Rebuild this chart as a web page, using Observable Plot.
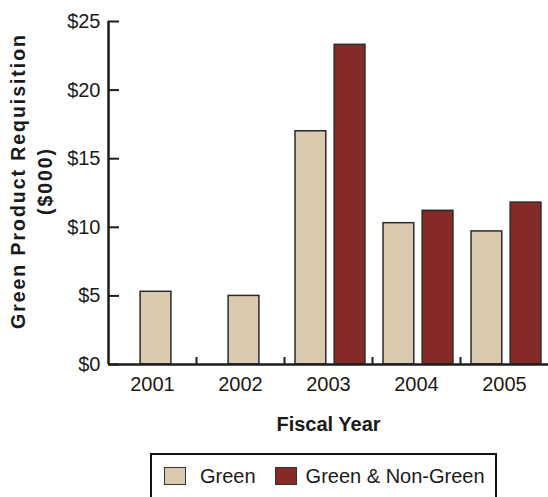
<!DOCTYPE html>
<html>
<head>
<meta charset="utf-8">
<script src="https://cdn.jsdelivr.net/npm/d3@7"></script>
<script src="https://cdn.jsdelivr.net/npm/@observablehq/plot@0.6"></script>
<style>
  body { margin: 0; background: #fff; font-family: "Liberation Sans", Arial, sans-serif; }
  #chart svg { display: block; }
  .legend {
    box-sizing: border-box;
    margin-left: 150px;
    width: 347px;
    height: 52px;
    border: 2px solid #111;
    display: flex;
    align-items: center;
    padding: 0 0 6px 12px;
    font-size: 20px;
    color: #1a1a1a;
  }
  .legend .sw { width: 20px; height: 16px; border: 1px solid #333; flex: none; }
  .legend .item { display: flex; align-items: center; }
</style>
</head>
<body>
<div id="chart"></div>
<script>
// Fiscal years and requisition totals ($000) per series
const years = [2001, 2002, 2003, 2004, 2005];
const green = [5.3, 5.0, 17.0, 10.3, 9.7];
const greenNonGreen = [null, null, 23.3, 11.2, 11.8];
const seriesNames = ["Green", "Green & Non-Green"];
const seriesColors = ["#d9cab0", "#852a25"];
const yTicks = [0, 5, 10, 15, 20, 25];
const xTitle = "Fiscal Year";
const yTitle = "Green Product Requisition\n($000)";

// Bars sit side by side within a year; a lone bar is centred in its year
const halfWidth = 0.175;
const rows = [];
years.forEach((year, i) => {
  const vals = [green[i], greenNonGreen[i]];
  const present = vals.map((v, s) => (v == null ? null : s)).filter((s) => s != null);
  present.forEach((s) => {
    const offset = present.length === 1 ? 0.04 : (s === 0 ? -0.2 : 0.245);
    rows.push({ year, series: seriesNames[s], value: vals[s], x1: year + offset - halfWidth, x2: year + offset + halfWidth });
  });
});

const xDomain = [years[0] - 0.5, years[years.length - 1] + 0.5];
const groupEdges = years.slice(0, -1).map((y) => y + 0.5);
const tickFont = 20;

const chart = Plot.plot({
  width: 548,
  height: 445,
  marginLeft: 108,
  marginRight: 0,
  marginTop: 21,
  marginBottom: 81,
  style: { fontFamily: "Liberation Sans, Arial, sans-serif", fontSize: "20px", color: "#1a1a1a", background: "#fff" },
  x: { type: "linear", domain: xDomain },
  y: { domain: [0, 25] },
  color: { domain: seriesNames, range: seriesColors },
  marks: [
    Plot.rectY(rows, { x1: "x1", x2: "x2", y: "value", fill: "series", stroke: "#2b2b2b", strokeWidth: 1.5 }),
    Plot.axisY({ ticks: yTicks, tickFormat: (d) => `$${d}`, tickSize: -11, tickPadding: 19, strokeWidth: 2, stroke: "#1c1c1c", fontSize: tickFont, label: null }),
    Plot.axisX({ ticks: groupEdges, tickSize: -7, tickFormat: () => "", strokeWidth: 2, stroke: "#1c1c1c", label: null }),
    Plot.axisX({ ticks: years, tickSize: 0, tickPadding: 12, tickFormat: (d) => String(d), fontSize: tickFont, label: null }),
    Plot.ruleY([0], { strokeWidth: 2.5, stroke: "#1c1c1c" }),
    Plot.ruleX([xDomain[0]], { y1: 0, y2: 25, strokeWidth: 2.5, stroke: "#1c1c1c" }),
    Plot.text([xTitle], { frameAnchor: "bottom", dy: 66, fontWeight: "bold", fontSize: 20, fill: "#1a1a1a" }),
    Plot.text([yTitle], { frameAnchor: "left", textAnchor: "middle", rotate: -90, dx: -79, dy: -12, fontWeight: "bold", fontSize: 19.5, lineHeight: 1.42, fill: "#1a1a1a" })
  ]
});

// Widen the tracking of the vertical axis title
d3.select(chart).selectAll("text")
  .filter(function () { return this.textContent.includes("Requisition"); })
  .attr("letter-spacing", "1.95px");
document.getElementById("chart").append(chart);

// Legend below the chart
const legend = document.createElement("div");
legend.className = "legend";
const gaps = [[14, 0], [9, 19]];
seriesNames.forEach((name, i) => {
  const item = document.createElement("div");
  item.className = "item";
  item.style.marginLeft = gaps[i][1] + "px";
  const sw = document.createElement("span");
  sw.className = "sw";
  sw.style.background = seriesColors[i];
  const label = document.createElement("span");
  label.textContent = name;
  label.style.marginLeft = gaps[i][0] + "px";
  item.append(sw, label);
  legend.append(item);
});
legend.style.marginTop = "8px";
document.body.append(legend);
</script>
</body>
</html>
